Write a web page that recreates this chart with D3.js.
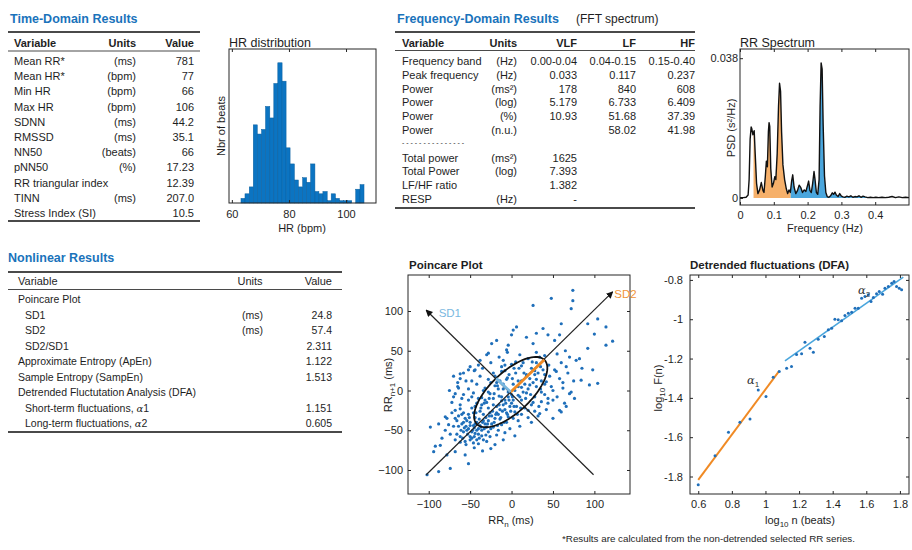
<!DOCTYPE html>
<html><head><meta charset="utf-8">
<script src="https://cdn.jsdelivr.net/npm/d3@7"></script>
<style>body{margin:0;background:#fff;} svg{display:block;}</style>
</head><body>
<svg id="c" width="912" height="550"></svg>
<script>
// ---------------- DATA ----------------
const timeVars = ["Mean RR*","Mean HR*","Min HR","Max HR","SDNN","RMSSD","NN50","pNN50","RR triangular index","TINN","Stress Index (SI)"];
const timeUnits = ["(ms)","(bpm)","(bpm)","(bpm)","(ms)","(ms)","(beats)","(%)","","(ms)",""];
const timeValues = ["781","77","66","106","44.2","35.1","66","17.23","12.39","207.0","10.5"];

const freqHeader = ["Variable","Units","VLF","LF","HF"];
const freqVars = ["Frequency band","Peak frequency","Power","Power","Power","Power"];
const freqUnits = ["(Hz)","(Hz)","(ms²)","(log)","(%)","(n.u.)"];
const vlfValues = ["0.00-0.04","0.033","178","5.179","10.93",""];
const lfValues = ["0.04-0.15","0.117","840","6.733","51.68","58.02"];
const hfValues = ["0.15-0.40","0.237","608","6.409","37.39","41.98"];
const totVars = ["Total power","Total Power","LF/HF ratio","RESP"];
const totUnits = ["(ms²)","(log)","","(Hz)"];
const totValues = ["1625","7.393","1.382","-"];

const nlVars = ["Poincare Plot","SD1","SD2","SD2/SD1","Approximate Entropy (ApEn)","Sample Entropy (SampEn)","Detrended Fluctutation Analysis (DFA)","Short-term fluctuations, α1","Long-term fluctuations, α2"];
const nlIndent = [0,1,1,1,0,0,0,1,1];
const nlUnits = ["","(ms)","(ms)","","","","","",""];
const nlValues = ["","24.8","57.4","2.311","1.122","1.513","","1.151","0.605"];

// HR histogram (bpm bin edges, counts)
const hrEdges = [63.2,64.6,66.1,67.5,68.9,70.4,71.8,73.3,74.7,76.1,77.6,79.0,80.4,81.9,83.3,84.8,86.2,87.6,89.1,90.5,91.9,93.4,94.8,96.3,97.7,99.1,100.6,102.0,103.4,104.9,106.3];
const hrCounts = [2,4,7,34,30,32,42,37,52,61,53,24,17,10,7,11,9,17,5,4,5,1,4,2,1,1,1,0,6,8];
const hrTicks = [60,80,100];

// RR spectrum [frequency Hz, PSD s^2/Hz]
const spectrum = [[0,0.0001],[0.010,0.0001],[0.018,0.0002],[0.024,0.0008],[0.027,0.005],[0.030,0.016],[0.033,0.0193],[0.035,0.0188],[0.038,0.0172],[0.040,0.0178],[0.042,0.0183],[0.045,0.012],[0.049,0.004],[0.053,0.0012],[0.058,0.0022],[0.063,0.0042],[0.068,0.002],[0.071,0.0015],[0.075,0.006],[0.078,0.010],[0.081,0.0085],[0.084,0.018],[0.086,0.0205],[0.088,0.0195],[0.091,0.008],[0.095,0.003],[0.099,0.004],[0.103,0.0058],[0.106,0.005],[0.110,0.012],[0.114,0.025],[0.117,0.0312],[0.120,0.029],[0.123,0.018],[0.127,0.009],[0.132,0.005],[0.137,0.0025],[0.141,0.0012],[0.145,0.0022],[0.149,0.0015],[0.153,0.0048],[0.156,0.0063],[0.160,0.003],[0.165,0.0012],[0.170,0.002],[0.175,0.0035],[0.180,0.0028],[0.185,0.0015],[0.190,0.0022],[0.195,0.0018],[0.200,0.0035],[0.203,0.0046],[0.207,0.002],[0.211,0.0015],[0.215,0.004],[0.219,0.0072],[0.222,0.005],[0.226,0.0015],[0.230,0.001],[0.234,0.005],[0.237,0.025],[0.240,0.0367],[0.243,0.035],[0.246,0.020],[0.250,0.006],[0.254,0.0015],[0.258,0.0004],[0.263,0.0002],[0.268,0.0006],[0.273,0.0014],[0.277,0.001],[0.281,0.0016],[0.285,0.0008],[0.290,0.0004],[0.295,0.0012],[0.300,0.0005],[0.305,0.0003],[0.310,0.0002],[0.316,0.0005],[0.322,0.0003],[0.328,0.0006],[0.334,0.0002],[0.340,0.0004],[0.346,0.0003],[0.352,0.0006],[0.358,0.0002],[0.364,0.0005],[0.370,0.0003],[0.378,0.0001],[0.386,0.0002],[0.394,0.0001],[0.402,0.0002],[0.410,0.0001],[0.420,0.0002],[0.430,0.0001],[0.440,0.0002],[0.450,0.0004],[0.460,0.0001],[0.470,0.0003],[0.480,0.0001],[0.490,0.0002],[0.500,0.0001]];
const lfBand = [0.04,0.15];
const hfBand = [0.15,0.40];
const specXTicks = [0,0.1,0.2,0.3,0.4];
const specYTicks = [0,0.038];

// Poincare: [RRn - mean, RRn+1 - mean] (ms)
const poincare = [
[74,126],[74,113],[48,116],[26,107],[72,103],[104,90],[92,84],[114,80],[100,71],[122,62],[114,57],[92,53],[82,40],[98,26],[94,7],[104,9],[84,13],[72,-2],[76,-10],[66,-20],[60,-27],[50,-35],[44,-16],[34,-29],
[60,84],[58,70],[52,63],[44,70],[38,78],[30,72],[26,59],[18,67],[6,80],[2,76],[-4,57],[0,70],[-6,51],[-18,63],[-24,59],[-28,47],[-38,38],[-44,26],[-52,26],[-62,21],[-64,3],[-68,-4],[-62,-23],[-68,-35],[-80,-33],[-76,-43],[-98,-46],[-94,-77],[-86,-69],[-78,-81],[-68,-77],[-88,-102],[-74,-98],[-56,-81],[-52,-92],[-102,-106],
[-30,45],[-15,42],[-5,48],[10,45],[20,40],[30,48],[40,44],[55,46],[65,50],[70,42],[-10,38],[5,36],
[-40,32],[-25,35],[-12,30],[0,33],[12,31],[25,36],[35,30],[45,32],[60,35],[78,38],[-50,30],
[-58,22],[-45,25],[-35,28],[-22,22],[-8,25],[3,28],[15,22],[28,25],[40,20],[52,26],[68,22],[85,28],
[-62,15],[-48,12],[-38,18],[-28,14],[-18,10],[-5,16],[8,12],[18,18],[30,14],[42,11],[58,15],[75,12],[-70,18],
[-65,5],[-52,2],[-42,8],[-32,3],[-20,6],[-10,2],[2,8],[12,4],[22,7],[35,2],[48,5],[62,3],[-75,0],
[-70,-8],[-58,-5],[-46,-3],[-36,-9],[-26,-4],[-15,-7],[-4,-2],[8,-6],[18,-3],[28,-8],[40,-5],[55,-8],[70,-4],
[-72,-15],[-62,-18],[-52,-12],[-42,-16],[-32,-12],[-22,-18],[-12,-13],[0,-16],[12,-12],[24,-18],[36,-14],[50,-12],[64,-16],
[-68,-25],[-58,-28],[-48,-22],[-38,-26],[-28,-22],[-18,-28],[-8,-24],[4,-27],[16,-22],[28,-26],[42,-24],
[-78,-35],[-64,-32],[-54,-38],[-44,-34],[-34,-38],[-24,-32],[-14,-36],[-4,-33],[8,-38],[20,-34],
[-70,-45],[-60,-42],[-52,-48],[-46,-44],[-40,-48],[-32,-42],[-22,-46],[-12,-43],[-2,-48],[10,-45],
[-66,-55],[-58,-52],[-50,-58],[-44,-54],[-36,-57],[-28,-52],[-18,-56],[-8,-53],[4,-57],[-62,-58],
[-62,-65],[-50,-62],[-40,-67],[-30,-64],[-20,-68],[-10,-62],[-55,-68],
[-45,-72],[-35,-76],[-25,-73],
[-55,-45],[-50,-40],[-48,-52],[-45,-47],[-42,-40],[-40,-55],[-38,-44],[-36,-50],[-34,-30],[-30,-46],[-28,-38],[-26,-28],[-24,-42],[-20,-35],[-18,-20],[-16,-30],[-14,-24],[-12,-8],[-10,-18],[-8,-12],[-6,-28],[-4,-8],[-2,-20],[0,-5],[2,-12],[4,0],[6,-20],[8,5],[10,-8],[12,12],[14,-2],[16,8],[18,20],[20,2],[22,15],[24,28],[26,10],[28,20],[30,35],[32,22],[34,42],[36,12],[38,26],
[-56,-35],[-52,-30],[-46,-28],[-44,-20],[-40,-10],[-36,-18],[-34,0],[-30,-15],[-28,-2],[-25,10],[-22,-10],[-20,18],[-16,2],[-14,12],[-12,24],[-10,8],[-8,32],[-6,14],[-3,20],[1,15],[5,22],[7,-30],[9,28],[11,-22],[14,35],[17,-10],[20,-25],[23,-5],[26,-15],[30,5],[33,-20],[36,-2],[40,8],[44,-10],[46,18],[50,0],[54,24],[58,-25],[62,10],[66,30],
[-48,-60],[-42,-62],[-54,-50],[-58,-40],[-60,-30],[-64,-45],[-66,-38],[-72,-28],[-74,-55],[-68,-62],[-56,-64],[-46,-66],[-34,-62],[-26,-58],[-16,-50],[-6,-40],[2,-35],[12,-30],[24,-40],[32,-32],[-80,-50],[-84,-60],[-88,-42],[-92,-70],[-60,-10],[-65,10],[-55,12],[-48,-8],
[-50,-44],[-47,-50],[-44,-42],[-42,-50],[-39,-36],[-37,-46],[-35,-40],[-33,-48],[-31,-34],[-29,-42],[-27,-32],[-25,-48],[-23,-26],[-21,-40],[-19,-30],[-17,-44],[-15,-18],[-13,-34],[-11,-26],[-9,-40],[-7,-16],[-5,-30],[-3,-12],[-1,-26],[1,-8],[3,-20],[-53,-55],[-57,-47],[-61,-50],[-45,-58],[-39,-60],[-31,-56],[-59,-60],[-51,-34],[-43,-28],[-37,-22],[-33,-16],[-27,-10],[-21,-4],[-17,6]
];
const SD1 = 24.8, SD2 = 57.4;
const poincareCenter = [-1,-2];
const sd2AxisEnds = [[-103,-106],[122,124]];
const sd1AxisEnds = [[99,-106],[-103,101]];
const pTicks = [-100,-50,0,50,100];

// DFA [log10 n, log10 F(n)]
const dfa = [[0.600,-1.842],[0.700,-1.695],[0.780,-1.575],[0.848,-1.524],[0.908,-1.507],[0.957,-1.360],[1.003,-1.393],[1.046,-1.295],[1.082,-1.266],[1.126,-1.249],[1.155,-1.240],[1.185,-1.180],[1.215,-1.176],[1.235,-1.117],[1.265,-1.147],[1.285,-1.168],[1.314,-1.102],[1.350,-1.088],[1.374,-1.054],[1.394,-1.046],[1.413,-1.000],[1.433,-1.003],[1.453,-1.008],[1.473,-0.981],[1.493,-0.969],[1.513,-0.964],[1.533,-0.944],[1.552,-0.944],[1.572,-0.893],[1.592,-0.885],[1.612,-0.876],[1.628,-0.910],[1.642,-0.890],[1.661,-0.871],[1.677,-0.859],[1.697,-0.873],[1.711,-0.842],[1.731,-0.834],[1.751,-0.817],[1.765,-0.808],[1.780,-0.834],[1.796,-0.842],[1.810,-0.850]];
const alpha1 = 1.151, alpha1Intercept = -2.508, alpha1Range = [0.6,1.082];
const alpha2 = 0.605, alpha2Intercept = -1.887, alpha2Range = [1.116,1.82];
const dfaXTicks = [0.6,0.8,1,1.2,1.4,1.6,1.8];
const dfaYTicks = [-0.8,-1,-1.2,-1.4,-1.6,-1.8];

// ---------------- DRAW ----------------
const F = '"Liberation Sans", Arial, Helvetica, sans-serif';
const TITLE_BLUE = "#1a73bb";
const INK = "#1e1e1e";
const svg = d3.select("#c");

function text(x, y, s, o = {}) {
  const t = svg.append("text").attr("x", x).attr("y", y).text(s)
    .attr("font-family", o.family || F).attr("font-size", o.size || 11)
    .attr("fill", o.fill || INK).attr("text-anchor", o.anchor || "start");
  if (o.weight) t.attr("font-weight", o.weight);
  return t;
}
function hline(y, x1, x2, w) {
  svg.append("line").attr("x1", x1).attr("x2", x2).attr("y1", y).attr("y2", y)
    .attr("stroke", "#4a4a4a").attr("stroke-width", w);
}

// ---- Time-domain table
text(10, 23, "Time-Domain Results", {size: 12.5, weight: "bold", fill: TITLE_BLUE});
hline(32, 8, 200, 2);
text(14, 47, "Variable", {weight: "bold"});
text(136, 47, "Units", {weight: "bold", anchor: "end"});
text(194, 47, "Value", {weight: "bold", anchor: "end"});
hline(51, 8, 200, 1.2);
timeVars.forEach((v, i) => {
  const y = 65 + i * 15.2;
  text(14, y, v);
  text(136, y, timeUnits[i], {anchor: "end"});
  text(194, y, timeValues[i], {anchor: "end"});
});
hline(221, 8, 200, 2);

// ---- Frequency-domain table
text(397, 23, "Frequency-Domain Results", {size: 12.5, weight: "bold", fill: TITLE_BLUE});
text(576, 23, "(FFT spectrum)", {size: 12});
hline(32, 395, 695, 2);
const fx = [402, 517, 577, 636, 695];
freqHeader.forEach((h, j) => text(fx[j], 47, h, {weight: "bold", anchor: j === 0 ? "start" : "end"}));
hline(50.5, 395, 695, 1.2);
const fdy = 13.8;
freqVars.forEach((v, i) => {
  const y = 65 + i * fdy;
  text(fx[0], y, v);
  text(fx[1], y, freqUnits[i], {anchor: "end"});
  text(fx[2], y, vlfValues[i], {anchor: "end"});
  text(fx[3], y, lfValues[i], {anchor: "end"});
  text(fx[4], y, hfValues[i], {anchor: "end"});
});
text(fx[0], 65 + 6 * fdy - 3, "- - - - - - - - - - - - - - -", {size: 7});
totVars.forEach((v, i) => {
  const y = 65 + (7 + i) * fdy;
  text(fx[0], y, v);
  text(fx[1], y, totUnits[i], {anchor: "end"});
  text(fx[2], y, totValues[i], {anchor: "end"});
});
hline(208, 395, 695, 2);

// ---- Nonlinear table
text(8, 262, "Nonlinear Results", {size: 12.5, weight: "bold", fill: TITLE_BLUE});
hline(272, 8, 342, 2);
text(18, 285, "Variable");
text(250, 285, "Units", {anchor: "middle"});
text(332, 285, "Value", {anchor: "end"});
hline(289.5, 8, 342, 1.2);
nlVars.forEach((v, i) => {
  const y = 303 + i * 15.5;
  const x = nlIndent[i] ? 25 : 18;
  if (v.indexOf("α") >= 0) {
    const parts = v.split("α");
    const t = text(x, y, null, {size: 10.5});
    t.append("tspan").text(parts[0]);
    t.append("tspan").text("α").attr("font-style", "italic").attr("font-family", '"DejaVu Serif", serif').attr("font-size", 10);
    t.append("tspan").text(parts[1]);
  } else {
    text(x, y, v, {size: 10.5});
  }
  text(263, y, nlUnits[i], {anchor: "end", size: 10.5});
  text(332, y, nlValues[i], {anchor: "end", size: 10.5});
});
hline(432, 8, 342, 2);

// footer
text(562, 542, "*Results are calculated from the non-detrended selected RR series.", {size: 9.8});

// axis helpers
function box(x0, y0, x1, y1) {
  svg.append("rect").attr("x", x0).attr("y", y0).attr("width", x1 - x0).attr("height", y1 - y0)
    .attr("fill", "none").attr("stroke", "#262626").attr("stroke-width", 1);
}
function styleAxis(g, labels = true) {
  g.select(".domain").remove();
  g.selectAll(".tick line").attr("stroke", "#262626");
  g.selectAll(".tick text").attr("font-family", F).attr("font-size", 11).attr("fill", INK);
  if (!labels) g.selectAll(".tick text").remove();
  return g;
}

// ---- HR histogram
{
  const x0 = 229, x1 = 376, y0 = 49, y1 = 203;
  const hx = d3.scaleLinear().domain([59, 110.5]).range([x0, x1]);
  const hy = d3.scaleLinear().domain([0, 67]).range([y1, y0]);
  svg.append("g").selectAll("rect").data(hrCounts).join("rect")
    .attr("x", (d, i) => hx(hrEdges[i]))
    .attr("width", (d, i) => hx(hrEdges[i + 1]) - hx(hrEdges[i]))
    .attr("y", d => hy(d)).attr("height", d => hy(0) - hy(d))
    .attr("fill", "#0b74c2").attr("stroke", "#0a5f9e").attr("stroke-width", 0.5);
  box(x0, y0, x1, y1);
  styleAxis(svg.append("g").attr("transform", `translate(0,${y1})`)
    .call(d3.axisBottom(hx).tickValues(hrTicks).tickSizeInner(-3).tickSizeOuter(0).tickPadding(7)));
  styleAxis(svg.append("g").attr("transform", `translate(0,${y0})`)
    .call(d3.axisTop(hx).tickValues(hrTicks).tickSizeInner(-3).tickSizeOuter(0)), false);
  text(229, 47, "HR distribution", {size: 12.5});
  text(302, 232, "HR (bpm)", {anchor: "middle"});
  text(0, 0, "Nbr of beats", {anchor: "middle"}).attr("transform", "translate(225,126) rotate(-90)");
}

// ---- RR spectrum
{
  const x0 = 740, x1 = 909, y0 = 49, y1 = 205;
  const sx = d3.scaleLinear().domain([0, 0.5]).range([x0, x1]);
  const sy = d3.scaleLinear().domain([-0.0019, 0.0405]).range([y1, y0]);
  const defs = svg.append("defs");
  [["clipLF", lfBand], ["clipHF", hfBand]].forEach(([id, b]) => {
    defs.append("clipPath").attr("id", id).append("rect")
      .attr("x", sx(b[0])).attr("y", y0).attr("width", sx(b[1]) - sx(b[0])).attr("height", y1 - y0);
  });
  const area = d3.area().x(d => sx(d[0])).y0(sy(0)).y1(d => sy(d[1]));
  svg.append("path").datum(spectrum).attr("d", area).attr("fill", "#f6b06a").attr("clip-path", "url(#clipLF)");
  svg.append("path").datum(spectrum).attr("d", area).attr("fill", "#4aa6dd").attr("clip-path", "url(#clipHF)");
  svg.append("path").datum(spectrum).attr("d", d3.line().x(d => sx(d[0])).y(d => sy(d[1])))
    .attr("fill", "none").attr("stroke", "#111").attr("stroke-width", 1.4).attr("stroke-linejoin", "round");
  box(x0, y0, x1, y1);
  styleAxis(svg.append("g").attr("transform", `translate(0,${y1})`)
    .call(d3.axisBottom(sx).tickValues(specXTicks).tickFormat(d => d === 0 ? "0" : d3.format(".1f")(d)).tickSizeInner(-3).tickSizeOuter(0).tickPadding(6)));
  styleAxis(svg.append("g").attr("transform", `translate(0,${y0})`)
    .call(d3.axisTop(sx).tickValues(specXTicks).tickSizeInner(-3).tickSizeOuter(0)), false);
  styleAxis(svg.append("g").attr("transform", `translate(${x0},0)`)
    .call(d3.axisLeft(sy).tickValues(specYTicks).tickFormat(d => d === 0 ? "0" : d3.format(".3f")(d)).tickSizeInner(-3).tickSizeOuter(0).tickPadding(2)));
  text(740, 47, "RR Spectrum", {size: 12.5});
  text(825, 232, "Frequency (Hz)", {anchor: "middle"});
  text(0, 0, "PSD (s²/Hz)", {anchor: "middle"}).attr("transform", "translate(735,128) rotate(-90)");
}

// ---- Poincare plot
{
  const x0 = 408, x1 = 630, y0 = 275, y1 = 494;
  const px = d3.scaleLinear().domain([-125, 143]).range([x0, x1]);
  const py = d3.scaleLinear().domain([-130.2, 145.3]).range([y1, y0]);
  const defs = svg.append("defs");
  defs.append("marker").attr("id", "arr").attr("viewBox", "0 0 8 8").attr("refX", 7).attr("refY", 4)
    .attr("markerWidth", 7).attr("markerHeight", 7).attr("markerUnits", "userSpaceOnUse").attr("orient", "auto")
    .append("path").attr("d", "M0,0 L8,4 L0,8 z").attr("fill", "#111");
  svg.append("g").selectAll("circle").data(poincare).join("circle")
    .attr("cx", d => px(d[0])).attr("cy", d => py(d[1])).attr("r", 1.6).attr("fill", "#1f6fba");
  [sd2AxisEnds, sd1AxisEnds].forEach(e => {
    svg.append("line").attr("x1", px(e[0][0])).attr("y1", py(e[0][1])).attr("x2", px(e[1][0])).attr("y2", py(e[1][1]))
      .attr("stroke", "#222").attr("stroke-width", 1.2).attr("marker-end", "url(#arr)");
  });
  const c = poincareCenter, r2 = Math.SQRT1_2;
  const ell = d3.range(0, 361, 4).map(a => {
    const t = a * Math.PI / 180;
    return [c[0] + SD2 * Math.cos(t) * r2 - SD1 * Math.sin(t) * r2, c[1] + SD2 * Math.cos(t) * r2 + SD1 * Math.sin(t) * r2];
  });
  svg.append("path").datum(ell).attr("d", d3.line().x(d => px(d[0])).y(d => py(d[1])))
    .attr("fill", "none").attr("stroke", "#111").attr("stroke-width", 1.8);
  svg.append("line").attr("x1", px(c[0])).attr("y1", py(c[1])).attr("x2", px(c[0] + SD2 * r2)).attr("y2", py(c[1] + SD2 * r2))
    .attr("stroke", "#f08a24").attr("stroke-width", 2.8);
  svg.append("line").attr("x1", px(c[0])).attr("y1", py(c[1])).attr("x2", px(c[0] - SD1 * r2)).attr("y2", py(c[1] + SD1 * r2))
    .attr("stroke", "#7ab8e0").attr("stroke-width", 2.8);
  box(x0, y0, x1, y1);
  styleAxis(svg.append("g").attr("transform", `translate(0,${y1})`)
    .call(d3.axisBottom(px).tickValues(pTicks).tickFormat(d3.format("d")).tickSizeInner(-3).tickSizeOuter(0).tickPadding(6)));
  styleAxis(svg.append("g").attr("transform", `translate(0,${y0})`)
    .call(d3.axisTop(px).tickValues(pTicks).tickSizeInner(-3).tickSizeOuter(0)), false);
  styleAxis(svg.append("g").attr("transform", `translate(${x0},0)`)
    .call(d3.axisLeft(py).tickValues(pTicks).tickFormat(d3.format("d")).tickSizeInner(-3).tickSizeOuter(0).tickPadding(5)));
  styleAxis(svg.append("g").attr("transform", `translate(${x1},0)`)
    .call(d3.axisRight(py).tickValues(pTicks).tickSizeInner(-3).tickSizeOuter(0)), false);
  text(px(-88), py(92), "SD1", {fill: "#7ab8e0", size: 11.5});
  text(px(124), py(116), "SD2", {fill: "#f0943a", size: 11.5});
  text(409, 269, "Poincare Plot", {weight: "bold", size: 11.5});
  const xl = text(511, 524, null, {anchor: "middle"});
  xl.append("tspan").text("RR");
  xl.append("tspan").text("n").attr("font-size", 8).attr("dy", 3);
  xl.append("tspan").text(" (ms)").attr("dy", -3);
  const yl = text(0, 0, null, {anchor: "middle"}).attr("transform", "translate(392,385) rotate(-90)");
  yl.append("tspan").text("RR");
  yl.append("tspan").text("n+1").attr("font-size", 8).attr("dy", 3);
  yl.append("tspan").text(" (ms)").attr("dy", -3);
}

// ---- DFA
{
  const x0 = 690, x1 = 909, y0 = 275, y1 = 494;
  const dx = d3.scaleLinear().domain([0.551, 1.854]).range([x0, x1]);
  const dy = d3.scaleLinear().domain([-1.889, -0.775]).range([y1, y0]);
  svg.append("line").attr("x1", dx(alpha1Range[0])).attr("y1", dy(alpha1Intercept + alpha1 * alpha1Range[0]))
    .attr("x2", dx(alpha1Range[1])).attr("y2", dy(alpha1Intercept + alpha1 * alpha1Range[1]))
    .attr("stroke", "#f08a24").attr("stroke-width", 2);
  svg.append("line").attr("x1", dx(alpha2Range[0])).attr("y1", dy(alpha2Intercept + alpha2 * alpha2Range[0]))
    .attr("x2", dx(alpha2Range[1])).attr("y2", dy(alpha2Intercept + alpha2 * alpha2Range[1]))
    .attr("stroke", "#4aa6dd").attr("stroke-width", 1.6);
  svg.append("g").selectAll("circle").data(dfa).join("circle")
    .attr("cx", d => dx(d[0])).attr("cy", d => dy(d[1])).attr("r", 1.5).attr("fill", "#1f6fba");
  box(x0, y0, x1, y1);
  styleAxis(svg.append("g").attr("transform", `translate(0,${y1})`)
    .call(d3.axisBottom(dx).tickValues(dfaXTicks).tickFormat(d => d3.format("")(d)).tickSizeInner(-3).tickSizeOuter(0).tickPadding(6)));
  styleAxis(svg.append("g").attr("transform", `translate(0,${y0})`)
    .call(d3.axisTop(dx).tickValues(dfaXTicks).tickSizeInner(-3).tickSizeOuter(0)), false);
  styleAxis(svg.append("g").attr("transform", `translate(${x0},0)`)
    .call(d3.axisLeft(dy).tickValues(dfaYTicks).tickFormat(d => d3.format("")(d).replace("−", "-")).tickSizeInner(-3).tickSizeOuter(0).tickPadding(7)));
  styleAxis(svg.append("g").attr("transform", `translate(${x1},0)`)
    .call(d3.axisRight(dy).tickValues(dfaYTicks).tickSizeInner(-3).tickSizeOuter(0)), false);
  const a1 = text(dx(0.89), dy(-1.33), null, {family: '"DejaVu Serif", serif', size: 11.5, fill: "#333"});
  a1.append("tspan").text("α").attr("font-style", "italic");
  a1.append("tspan").text("1").attr("font-size", 8).attr("dy", 3).attr("font-family", F);
  const a2 = text(dx(1.55), dy(-0.87), null, {family: '"DejaVu Serif", serif', size: 11.5, fill: "#333"});
  a2.append("tspan").text("α").attr("font-style", "italic");
  a2.append("tspan").text("2").attr("font-size", 8).attr("dy", 3).attr("font-family", F);
  text(690, 269, "Detrended fluctuations (DFA)", {weight: "bold", size: 11.5});
  const xl = text(800, 524, null, {anchor: "middle"});
  xl.append("tspan").text("log");
  xl.append("tspan").text("10").attr("font-size", 8).attr("dy", 3);
  xl.append("tspan").text(" n (beats)").attr("dy", -3);
  const yl = text(0, 0, null, {anchor: "middle"}).attr("transform", "translate(662,388) rotate(-90)");
  yl.append("tspan").text("log");
  yl.append("tspan").text("10").attr("font-size", 8).attr("dy", 3);
  yl.append("tspan").text(" F(n)").attr("dy", -3);
}
</script>
</body></html>
